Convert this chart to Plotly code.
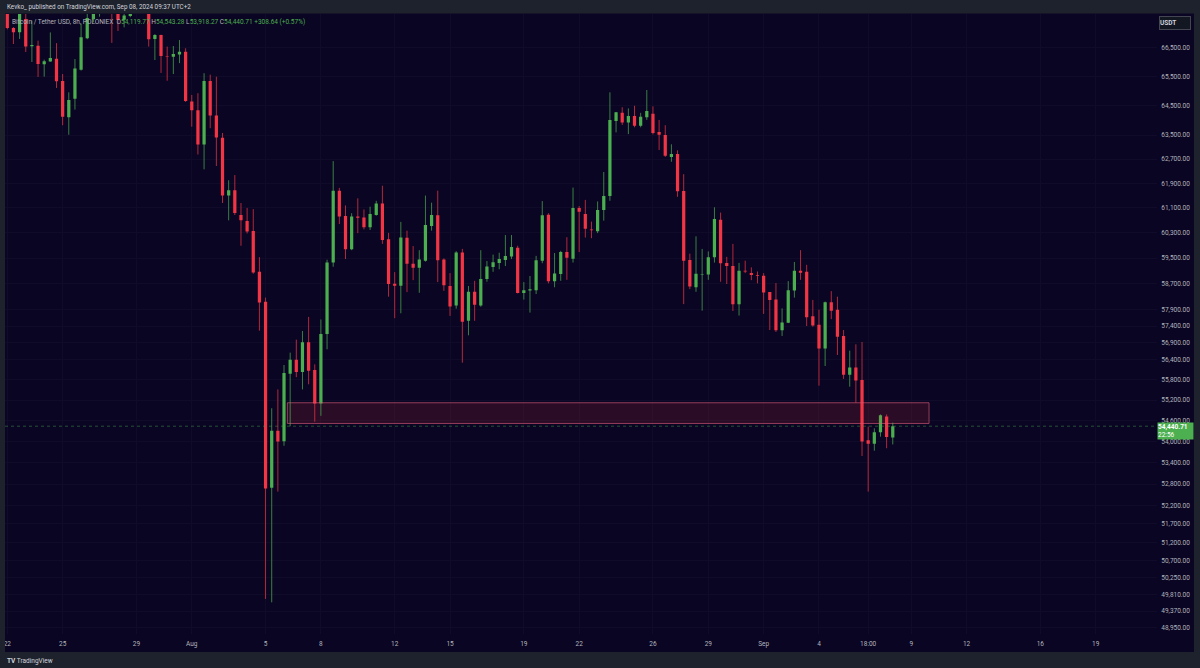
import math
import pandas as pd
import plotly.graph_objects as go

# ---------------- data (BTC/USDT 8h, Poloniex) ----------------
opens = [68000, 67200, 67050, 67520, 66550, 66570, 65920, 66020, 66110, 65340,
         64100, 64730, 65730, 66830, 67510, 67850, 68300, 68700, 67900, 67490,
         67620, 68200, 69300, 69000, 66810, 66950, 66210, 66180, 66260, 66360,
         64640, 64340, 63180, 65340, 64160, 63410, 61500, 61670, 60870, 60680,
         60360, 59070, 58140, 52700, 54310, 54010, 55970, 56390, 56020, 56910,
         56080, 55100, 57160, 59360, 61660, 60840, 59780, 60820, 60790, 60480,
         60870, 61240, 60100, 58700, 58640, 60140, 59320, 59200, 59420, 60520,
         60860, 59460, 58630, 58030, 59680, 57560, 58450, 58030, 58850, 59220,
         59350, 59440, 59550, 59830, 58410, 58490, 58500, 59420, 60880, 58780,
         59000, 59690, 59480, 61100, 60900, 60410, 60350, 61030, 61490, 63970,
         64250, 63920, 64140, 63810, 64100, 64220, 63600, 63500, 62770, 62870,
         61650, 59440, 58590, 58990, 58990, 59530, 60720, 59350, 59250, 58070,
         59100, 59030, 58970, 58950, 58440, 58210, 57270, 57500, 58490, 59100,
         59070, 57700, 57440, 56720, 58130, 57900, 57100, 55940, 56160, 55790,
         54040, 53940, 54270, 54720, 54119.77]
highs = [68200, 67230, 67950, 67800, 67460, 66750, 66080, 67040, 66660, 65580,
         64950, 66100, 67340, 67700, 68100, 68500, 68900, 69000, 68100, 67800,
         68300, 69500, 70000, 69200, 66980, 66960, 66540, 66560, 66770, 66480,
         64860, 64920, 65610, 65560, 65490, 63570, 62000, 62170, 61260, 61100,
         61060, 59530, 58270, 54960, 55510, 56230, 56600, 56990, 57250, 57680,
         56250, 57600, 59450, 62630, 61750, 61180, 60930, 61410, 61050, 61140,
         61330, 61820, 60300, 59060, 60650, 60370, 59880, 59750, 61500, 61270,
         61660, 59490, 59030, 59720, 59790, 58630, 58790, 59750, 59410, 59610,
         59670, 60230, 60230, 59890, 58750, 58940, 59570, 61320, 60930, 59660,
         59730, 60160, 61760, 61160, 61360, 60660, 61310, 62270, 64950, 64280,
         64440, 64400, 64490, 64250, 65030, 64470, 64010, 63830, 63190, 62990,
         62200, 59640, 60190, 59790, 59710, 61120, 60950, 59540, 59950, 59350,
         59420, 59210, 59080, 59030, 58440, 58720, 57940, 58780, 59380, 59750,
         59290, 58200, 57900, 58150, 58470, 58300, 57280, 56660, 56850, 56920,
         54430, 54380, 54780, 54780, 54543.28]
lows = [67150, 66630, 66810, 66350, 66000, 65480, 65490, 66010, 65100, 63830,
        63510, 64360, 65700, 66800, 67400, 67600, 68100, 66670, 67090, 67220,
        67580, 68000, 68900, 66540, 66070, 65620, 65350, 65580, 65960, 64620,
        63780, 62850, 62360, 63730, 62470, 61260, 60700, 60870, 59890, 60280,
        59010, 57260, 49690, 49600, 52590, 53880, 54440, 55870, 55510, 55660,
        54570, 54740, 56700, 59230, 60580, 59470, 59750, 60290, 60410, 60390,
        60850, 59950, 58300, 57640, 57790, 58440, 58810, 58420, 59390, 60370,
        58750, 58480, 57710, 57930, 56300, 57120, 57560, 57990, 58760, 59070,
        59150, 59250, 59470, 58400, 58210, 57810, 58380, 59340, 58710, 58590,
        58790, 58820, 59360, 59690, 60150, 60130, 60290, 60690, 61330, 63590,
        63840, 63530, 63760, 63760, 64010, 63520, 63000, 62770, 62610, 61460,
        58070, 58530, 58450, 57870, 58820, 59360, 58760, 58690, 57860, 57720,
        59030, 58810, 58710, 57770, 57280, 57220, 57100, 57490, 58270, 58820,
        57400, 57380, 55620, 56200, 57610, 56530, 55820, 55590, 55120, 53590,
        52590, 53740, 54140, 53810, 53918.27]
closes = [67200, 67050, 67750, 66540, 66600, 65930, 66030, 66140, 65330, 64120,
          64690, 65770, 66870, 67550, 67800, 68300, 68700, 67800, 67480, 67640,
          68000, 69300, 69100, 66800, 66950, 66210, 66190, 66280, 66360, 64650,
          64340, 63180, 65340, 64160, 63420, 61500, 61670, 60940, 60700, 60340,
          59050, 58120, 52680, 54310, 54000, 55990, 56390, 56020, 56910, 56060,
          55100, 57160, 59360, 61660, 60820, 59780, 60820, 60780, 60480, 60900,
          61240, 60070, 58690, 58640, 60150, 59320, 59200, 59460, 60550, 60870,
          59430, 58650, 58000, 59680, 57530, 58450, 58050, 58850, 59240, 59370,
          59470, 59570, 59850, 58410, 58500, 58530, 59430, 60860, 58780, 59020,
          59690, 59510, 61100, 60980, 60430, 60380, 61030, 61490, 64010, 64270,
          63920, 64140, 63810, 64120, 64310, 63570, 63510, 62810, 62870, 61640,
          59420, 58610, 59010, 59000, 59530, 60740, 59340, 59250, 58070, 59100,
          59080, 58970, 58950, 58430, 58200, 57270, 57510, 58500, 59100, 59040,
          57670, 57420, 56720, 58130, 57870, 57080, 55940, 56160, 55770, 54000,
          53940, 54270, 54760, 54132.07, 54440.71]

first_bar = "2024-07-22 02:00"
times = pd.date_range(first_bar, periods=len(opens), freq="8h")

tick_times = ["2024-07-22 02:00", "2024-07-25 02:00", "2024-07-29 02:00", "2024-08-01 02:00",
              "2024-08-05 02:00", "2024-08-08 02:00", "2024-08-12 02:00", "2024-08-15 02:00",
              "2024-08-19 02:00", "2024-08-22 02:00", "2024-08-26 02:00", "2024-08-29 02:00",
              "2024-09-01 02:00", "2024-09-04 02:00", "2024-09-06 18:00", "2024-09-09 02:00",
              "2024-09-12 02:00", "2024-09-16 02:00", "2024-09-19 02:00"]
tick_text = ["22", "25", "29", "Aug", "5", "8", "12", "15", "19", "22", "26", "29",
             "Sep", "4", "18:00", "9", "12", "16", "19"]

price_ticks = [66500, 65500, 64500, 63500, 62700, 61900, 61100, 60300, 59500, 58700,
               57900, 57400, 56900, 56400, 55800, 55200, 54600, 54000, 53400, 52800,
               52200, 51700, 51200, 50700, 50250, 49810, 49370, 48950]

last_price = 54440.71
zone_low, zone_high = 54520, 55120
zone_start_bar, zone_end_bar = 45.54, 149.9

# ---------------- style ----------------
BG = "#0a0522"
GREY = "#1e222d"
UP = "#4caf50"
DOWN = "#f23645"
UP_WICK = "rgba(76,175,80,0.72)"
DOWN_WICK = "rgba(242,54,69,0.72)"
TXT = "#b2b5be"
FONT = "Roboto"

W, H = 1200, 668
L, R, T, B = 5, 1157, 14, 634   # plot area in px


def px_x(px):
    return (px - L) / (R - L)


def px_y(py):
    return (B - py) / (B - T)


t0 = pd.Timestamp(first_bar)
bar = pd.Timedelta(hours=8)
x_range = [t0 + bar * -0.374, t0 + bar * 186.97]
y_range = [math.log10(48777), math.log10(67696)]

fig = go.Figure()

# support zone (drawn as a filled trace so it follows the log axis)
zx0, zx1 = t0 + bar * zone_start_bar, t0 + bar * zone_end_bar
fig.add_trace(go.Scatter(
    x=[zx0, zx1, zx1, zx0, zx0], y=[zone_low, zone_low, zone_high, zone_high, zone_low],
    mode="lines", fill="toself", fillcolor="rgba(242,54,69,0.14)",
    line=dict(color="rgba(232,96,128,0.6)", width=1), hoverinfo="skip", showlegend=False))

# last price dotted line
fig.add_trace(go.Scatter(
    x=x_range, y=[last_price, last_price], mode="lines",
    line=dict(color="rgba(76,175,80,0.45)", width=1, dash="dot"),
    hoverinfo="skip", showlegend=False))

# wicks
for up in (True, False):
    wx, wy = [], []
    for t, o, h, l, c in zip(times, opens, highs, lows, closes):
        if (c >= o) == up:
            wx += [t, t, None]
            wy += [h, l, None]
    fig.add_trace(go.Scatter(
        x=wx, y=wy, mode="lines", connectgaps=False,
        line=dict(color=UP_WICK if up else DOWN_WICK, width=1),
        hoverinfo="skip", showlegend=False))

# bodies
fig.add_trace(go.Candlestick(
    x=times, open=opens, high=highs, low=lows, close=closes,
    increasing=dict(line=dict(color=UP, width=0), fillcolor=UP),
    decreasing=dict(line=dict(color=DOWN, width=0), fillcolor=DOWN),
    whiskerwidth=0, hoverinfo="skip", showlegend=False,
))

shapes = [
    dict(type="rect", xref="paper", yref="paper", x0=-0.05, x1=1.05,
         y0=px_y(13.5), y1=1.1, fillcolor=GREY, line=dict(width=0), layer="above"),
    dict(type="rect", xref="paper", yref="paper", x0=-0.05, x1=1.05,
         y0=-0.1, y1=px_y(652), fillcolor=GREY, line=dict(width=0), layer="above"),
    dict(type="rect", xref="paper", yref="paper", x0=-0.05, x1=0,
         y0=-0.1, y1=1.1, fillcolor=GREY, line=dict(width=0), layer="above"),
    dict(type="rect", xref="paper", yref="paper", x0=px_x(1194), x1=1.1,
         y0=-0.1, y1=1.1, fillcolor=GREY, line=dict(width=0), layer="above"),
]

legend_html = (
    f'<span style="color:{TXT}">Bitcoin / Tether USD, 8h, POLONIEX</span>  '
    f'<span style="color:{TXT}">O</span><span style="color:{UP}">{opens[-1]:,.2f}</span> '
    f'<span style="color:{TXT}">H</span><span style="color:{UP}">{highs[-1]:,.2f}</span> '
    f'<span style="color:{TXT}">L</span><span style="color:{UP}">{lows[-1]:,.2f}</span> '
    f'<span style="color:{TXT}">C</span><span style="color:{UP}">{closes[-1]:,.2f}</span> '
    f'<span style="color:{UP}">+{closes[-1]-closes[-2]:,.2f} (+{(closes[-1]/closes[-2]-1)*100:.2f}%)</span>'
)

annotations = [
    dict(xref="paper", yref="paper", x=px_x(5), y=px_y(7), xanchor="left", yanchor="middle",
         text="Kevko_ published on TradingView.com, Sep 08, 2024 09:37 UTC+2",
         showarrow=False, font=dict(family=FONT, size=6.3, color="#d1d4dc")),
    dict(xref="paper", yref="paper", x=px_x(10), y=px_y(22), xanchor="left", yanchor="middle",
         text=legend_html, showarrow=False, font=dict(family=FONT, size=6.5, color=TXT)),
    dict(xref="paper", yref="paper", x=px_x(1158.5), y=px_y(23), xanchor="left", yanchor="middle",
         text="<b>USDT</b>", showarrow=False, align="left", width=30, height=12,
         bgcolor="#131722", bordercolor="#434651", borderwidth=1, borderpad=0,
         font=dict(family=FONT, size=6.5, color="#d1d4dc")),
    dict(xref="paper", yref="y", x=px_x(1157), y=math.log10(last_price), xanchor="left",
         yanchor="middle", yshift=-5,
         text=f"<b>{last_price:,.2f}</b><br>22:56", showarrow=False, align="left",
         width=35, height=16, bgcolor=UP, borderpad=0,
         font=dict(family=FONT, size=6.5, color="#ffffff")),
    dict(xref="paper", yref="paper", x=px_x(5), y=px_y(661), xanchor="left", yanchor="middle",
         text="<b>TV</b> TradingView", showarrow=False,
         font=dict(family=FONT, size=6.5, color="#d1d4dc")),
]

fig.update_layout(
    width=W, height=H,
    margin=dict(l=L, r=W - R, t=T, b=H - B, pad=0),
    paper_bgcolor=BG, plot_bgcolor=BG,
    boxgap=0.25,
    shapes=shapes, annotations=annotations,
    showlegend=False,
    xaxis=dict(type="date", range=x_range, rangeslider=dict(visible=False),
               tickvals=tick_times, ticktext=tick_text,
               showgrid=True, gridcolor="#100b28", gridwidth=1,
               ticks="outside", ticklen=3, tickcolor=BG,
               tickfont=dict(family=FONT, size=6.5, color=TXT),
               showline=False, zeroline=False, fixedrange=True),
    yaxis=dict(type="log", side="right", range=y_range,
               tickvals=price_ticks, tickformat=",.2f",
               showgrid=True, gridcolor="#100b28", gridwidth=1,
               ticks="outside", ticklen=2, tickcolor=BG,
               tickfont=dict(family=FONT, size=6.5, color=TXT),
               showline=False, zeroline=False, fixedrange=True),
)

fig.write_html("out.html")
